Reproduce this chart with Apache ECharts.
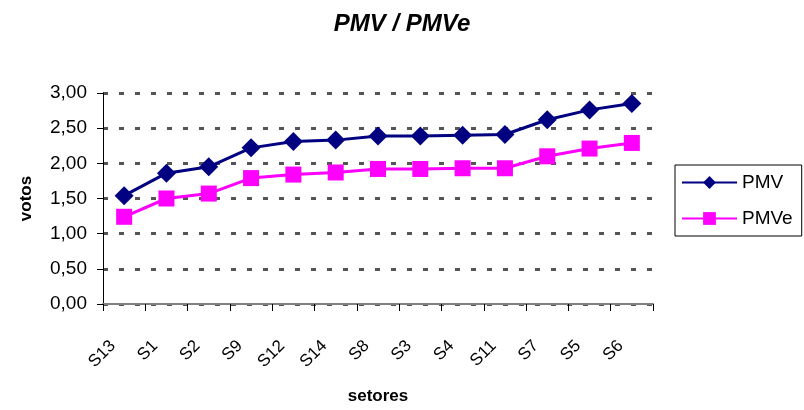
<!DOCTYPE html>
<html>
<head>
<meta charset="utf-8">
<script src="https://cdn.jsdelivr.net/npm/echarts@6/dist/echarts.min.js"></script>
<style>
  html, body { margin: 0; padding: 0; background: #fff; }
  #chart { width: 804px; height: 410px; }
</style>
</head>
<body>
<div id="chart"></div>
<script>
// Sectors, ordered by PMV
const setores = ['S13', 'S1', 'S2', 'S9', 'S12', 'S14', 'S8', 'S3', 'S4', 'S11', 'S7', 'S5', 'S6'];
const pmv  = [1.54, 1.86, 1.95, 2.22, 2.31, 2.33, 2.39, 2.39, 2.40, 2.41, 2.62, 2.76, 2.85];
const pmve = [1.24, 1.50, 1.57, 1.79, 1.84, 1.87, 1.92, 1.92, 1.93, 1.93, 2.10, 2.21, 2.29];

const font = 'Liberation Sans, Arial, sans-serif';
const chart = echarts.init(document.getElementById('chart'));

chart.setOption({
  animation: false,
  backgroundColor: '#ffffff',
  title: {
    text: 'PMV / PMVe',
    left: 'center',
    top: 7,
    textStyle: { fontFamily: font, fontSize: 24, fontWeight: 'bold', fontStyle: 'italic', color: '#000' }
  },
  legend: {
    orient: 'vertical',
    left: 675,
    top: 165,
    padding: [8, 9, 8, 6],
    itemGap: 17,
    itemWidth: 55,
    itemHeight: 16,
    borderColor: '#000',
    borderWidth: 1,
    borderRadius: 0,
    textStyle: { fontFamily: font, fontSize: 19, color: '#000' },
    data: ['PMV', 'PMVe']
  },
  grid: { left: 103, right: 151, top: 93, bottom: 102 },
  xAxis: {
    type: 'category',
    data: setores,
    boundaryGap: true,
    name: 'setores',
    nameLocation: 'middle',
    nameGap: 84,
    nameTextStyle: { fontFamily: font, fontSize: 17, fontWeight: 'bold', color: '#000' },
    axisLine: { lineStyle: { color: '#808080', width: 2 } },
    axisTick: { show: true, length: 7, lineStyle: { color: '#000' } },
    axisLabel: {
      rotate: 45,
      margin: 28,
      padding: [0, 16, 0, 0],
      fontFamily: font,
      fontSize: 17,
      color: '#000'
    }
  },
  yAxis: {
    type: 'value',
    min: 0,
    max: 3,
    interval: 0.5,
    name: 'votos',
    nameLocation: 'middle',
    nameGap: 68,
    nameRotate: 90,
    nameTextStyle: { fontFamily: font, fontSize: 17, fontWeight: 'bold', color: '#000' },
    axisLine: { show: true, lineStyle: { color: '#000', width: 1 } },
    axisTick: { show: true, length: 6, lineStyle: { color: '#000' } },
    axisLabel: {
      margin: 16,
      fontFamily: font,
      fontSize: 19,
      color: '#000',
      formatter: v => v.toFixed(2).replace('.', ',')
    },
    splitLine: {
      show: true,
      lineStyle: { color: '#555555', width: 3, type: [5, 11] }
    }
  },
  series: [
    {
      name: 'PMV',
      type: 'line',
      data: pmv,
      symbol: 'diamond',
      symbolSize: 19,
      color: '#000080',
      lineStyle: { color: '#000080', width: 3 },
      itemStyle: { color: '#000080' }
    },
    {
      name: 'PMVe',
      type: 'line',
      data: pmve,
      symbol: 'rect',
      symbolSize: 16,
      color: '#ff00ff',
      lineStyle: { color: '#ff00ff', width: 3 },
      itemStyle: { color: '#ff00ff' }
    }
  ]
});
</script>
</body>
</html>
